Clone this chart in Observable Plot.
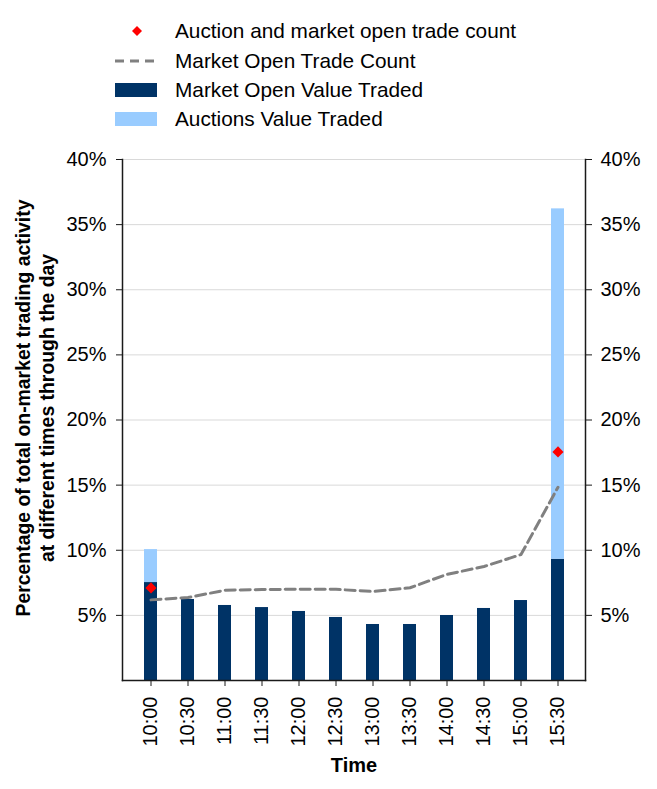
<!DOCTYPE html>
<html>
<head>
<meta charset="utf-8">
<script src="https://cdn.jsdelivr.net/npm/d3@7"></script>
<script src="https://cdn.jsdelivr.net/npm/@observablehq/plot@0.6"></script>
<style>
  html, body { margin: 0; padding: 0; background: #fff; }
  body { width: 657px; height: 789px; overflow: hidden; font-family: "Liberation Sans", Arial, sans-serif; }
  #legend { position: relative; height: 140px; }
  .row { position: absolute; left: 115px; height: 30px; display: flex; align-items: center; font-size: 20.8px; color: #000; white-space: nowrap; }
  .row svg { width: 42px; height: 30px; margin-right: 18px; flex: none; }
</style>
</head>
<body>
<div id="legend"></div>
<div id="chart"></div>
<script>
// Half-hour intervals through the trading day
const times = ["10:00", "10:30", "11:00", "11:30", "12:00", "12:30", "13:00", "13:30", "14:00", "14:30", "15:00", "15:30"];

// Share of total on-market value traded (%)
const marketOpenValue = [7.52, 6.22, 5.76, 5.6, 5.3, 4.84, 4.3, 4.3, 4.99, 5.53, 6.14, 9.31];
const auctionValue = [2.53, 0, 0, 0, 0, 0, 0, 0, 0, 0, 0, 26.9];

// Share of total trade count (%)
const marketOpenTradeCount = [6.19, 6.37, 6.93, 6.98, 7.01, 7.0, 6.83, 7.12, 8.15, 8.75, 9.67, 14.84];
const auctionTradeTimes = ["10:00", "15:30"];
const auctionTradeCount = [7.11, 17.55];

const yTicks = [5, 10, 15, 20, 25, 30, 35, 40];

const seriesNames = ["Market Open Value Traded", "Auctions Value Traded"];
const seriesColors = ["#003366", "#99ccff"];
const countColor = "#808080";
const auctionDotColor = "#ff0000";

// Long-form table for the stacked bars
const valueRows = [
  ...times.map((t, i) => ({time: t, series: seriesNames[0], value: marketOpenValue[i]})),
  ...times.map((t, i) => ({time: t, series: seriesNames[1], value: auctionValue[i]}))
];
const countRows = times.map((t, i) => ({time: t, value: marketOpenTradeCount[i]}));
const auctionRows = auctionTradeTimes.map((t, i) => ({time: t, value: auctionTradeCount[i]}));

// Legend
const legendItems = [
  {label: "Auction and market open trade count", kind: "diamond", top: 16},
  {label: "Market Open Trade Count", kind: "dash", top: 46},
  {label: "Market Open Value Traded", kind: "rect", color: seriesColors[0], top: 75},
  {label: "Auctions Value Traded", kind: "rect", color: seriesColors[1], top: 104}
];
const legend = document.getElementById("legend");
for (const item of legendItems) {
  const row = document.createElement("div");
  row.className = "row";
  row.style.top = item.top + "px";
  let sw;
  if (item.kind === "diamond") {
    sw = `<svg viewBox="0 0 42 30"><path d="M22,10 L27,15 L22,20 L17,15 Z" fill="${auctionDotColor}"/></svg>`;
  } else if (item.kind === "dash") {
    sw = `<svg viewBox="0 0 42 30"><line x1="0" x2="42" y1="15" y2="15" stroke="${countColor}" stroke-width="3" stroke-dasharray="9,6"/></svg>`;
  } else {
    sw = `<svg viewBox="0 0 42 30"><rect x="0" y="8" width="42" height="14" fill="${item.color}"/></svg>`;
  }
  row.innerHTML = sw + `<span>${item.label}</span>`;
  legend.appendChild(row);
}

const axisColor = "#1a1a1a";
const fmt = d => d + "%";

const chart = Plot.plot({
  width: 657,
  height: 649,
  marginTop: 19,
  marginBottom: 109,
  marginLeft: 122,
  marginRight: 72,
  style: {fontFamily: "Liberation Sans, Arial, sans-serif", fontSize: "20px", color: "#000", background: "#fff"},
  x: {type: "band", domain: times, paddingInner: 0.65, paddingOuter: 0.555},
  y: {domain: [0, 40]},
  color: {domain: seriesNames, range: seriesColors},
  marks: [
    Plot.gridY(yTicks, {stroke: "#d9d9d9", strokeOpacity: 1, strokeWidth: 1}),
    Plot.barY(valueRows, {x: "time", y: "value", fill: "series"}),
    Plot.lineY(countRows, {x: "time", y: "value", stroke: countColor, strokeWidth: 3, strokeDasharray: "10,5"}),
    Plot.dot(auctionRows, {x: "time", y: "value", symbol: "diamond2", r: 5, fill: auctionDotColor, stroke: "none"}),
    Plot.frame({anchor: "left", stroke: axisColor, strokeWidth: 1.5}),
    Plot.frame({anchor: "right", stroke: axisColor, strokeWidth: 1.5}),
    Plot.frame({anchor: "bottom", stroke: axisColor, strokeWidth: 1.5}),
    Plot.axisY(yTicks, {anchor: "left", tickFormat: fmt, tickSize: 6, tickPadding: 10, label: null, stroke: axisColor, fill: "#000"}),
    Plot.axisY(yTicks, {anchor: "right", tickFormat: fmt, tickSize: 6, tickPadding: 9, label: null, stroke: axisColor, fill: "#000"}),
    Plot.axisX({tickRotate: -90, tickSize: 6, tickPadding: 10, label: null, stroke: axisColor, fill: "#000"}),
    Plot.text(["Percentage of total on-market trading activity\nat different times through the day"], {
      frameAnchor: "left", textAnchor: "middle", lineAnchor: "middle", rotate: -90, dx: -88, dy: -12,
      fontWeight: "bold", fontSize: 19.4, lineHeight: 1.2, fill: "#000"
    }),
    Plot.text(["Time"], {frameAnchor: "bottom", dy: 85, fontWeight: "bold", fontSize: 20, lineAnchor: "middle", fill: "#000"})
  ]
});
document.getElementById("chart").appendChild(chart);
</script>
</body>
</html>
